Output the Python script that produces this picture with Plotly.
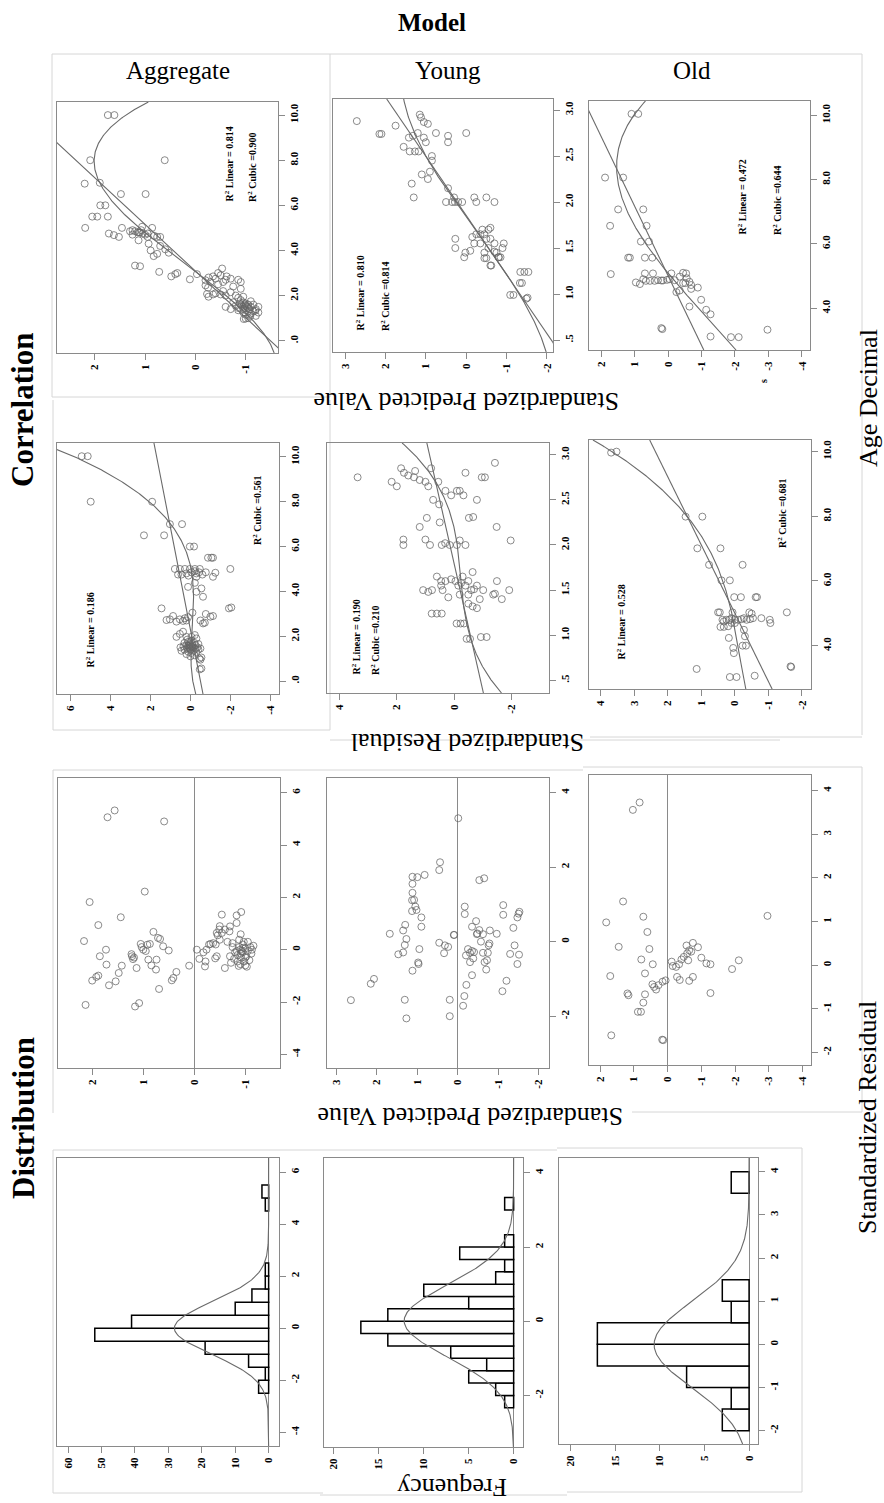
import numpy as np
import plotly.graph_objects as go

W, H = 884, 1503
FONT = "Liberation Serif"

# ======================= DATA =======================
# Row 1: Standardized Predicted Value vs Age Decimal  -> (age, predicted)
AGG_AGE_PRED = [
    (10.0, 1.74), (10.0, 1.61), (8.0, 2.09), (8.0, 0.61), (6.96, 2.2), (7.0, 1.9), (6.5, 1.48), (6.5, 0.99),
    (6.0, 1.89), (6.0, 1.79), (5.5, 2.05), (5.5, 1.95), (5.5, 1.74), (5.0, 2.19), (5.0, 1.46), (4.75, 1.72),
    (4.68, 1.62), (4.6, 1.52), (5.05, 1.06), (5.0, 0.86), (4.9, 1.25), (4.85, 1.2), (4.8, 1.15), (4.8, 1.1),
    (4.75, 1.05), (4.7, 1.0), (4.75, 0.95), (4.85, 1.3), (4.7, 1.25), (4.6, 0.95), (4.6, 0.76), (4.6, 0.7),
    (4.8, 1.12), (4.9, 1.08), (4.65, 0.82), (4.45, 1.13), (4.3, 0.93), (4.0, 0.89), (3.75, 0.83), (3.85, 0.76),
    (4.05, 0.6), (3.9, 0.53), (4.2, 0.7), (3.33, 1.2), (3.3, 1.1), (3.05, 0.72), (2.85, 0.48), (2.95, 0.4),
    (3.0, 0.36), (2.72, 0.11), (2.95, -0.03), (2.68, -0.2), (2.8, -0.26), (3.2, -0.53), (3.0, -0.45), (2.9, -0.5),
    (2.85, -0.35), (2.75, -0.4), (2.7, -0.6), (2.6, -0.55), (2.5, -0.45), (2.45, -0.2), (2.35, -0.25), (2.6, -0.3),
    (2.75, -0.7), (2.7, -0.85), (2.6, -0.9), (2.4, -0.75), (2.85, -0.62), (2.07, -0.23), (1.95, -0.26), (2.1, -0.4),
    (2.05, -0.5), (2.2, -0.55), (2.0, -0.6), (2.15, -0.7), (2.0, -0.8), (2.3, -0.9), (1.95, -0.95), (2.05, -0.35),
    (1.9, -0.85), (1.8, -0.9), (1.7, -0.95), (1.6, -0.9), (1.5, -0.95), (1.65, -1.0), (1.55, -1.0), (1.45, -1.05),
    (1.4, -0.95), (1.6, -1.05), (1.5, -1.1), (1.35, -1.0), (1.3, -1.05), (1.45, -0.85), (1.55, -0.8), (1.7, -0.75),
    (1.5, -0.6), (1.4, -0.7), (1.35, -0.85), (1.25, -0.95), (1.2, -1.1), (1.3, -1.15), (1.4, -1.2), (1.6, -1.15),
    (1.75, -1.1), (1.5, -1.25), (1.55, -0.92), (1.45, -0.98), (1.5, -1.02), (1.6, -0.98), (1.4, -1.08), (1.65, -0.88),
    (0.96, -0.96), (0.98, -1.0), (1.1, -1.09), (1.33, -1.19), (1.0, -1.05), (1.15, -1.0), (1.25, -1.25), (1.1, -1.2),
]
YOUNG_AGE_PRED = [
    (2.88, 2.71), (2.74, 2.15), (2.74, 2.1), (2.83, 1.75), (2.95, 1.15), (2.92, 1.12), (2.87, 1.05), (2.85, 0.95),
    (2.75, 1.2), (2.72, 1.32), (2.7, 1.42), (2.7, 1.05), (2.65, 1.0), (2.6, 1.55), (2.55, 1.4), (2.55, 1.27),
    (2.55, 1.18), (2.75, 0.75), (2.72, 0.45), (2.65, 0.45), (2.75, 0.0), (2.5, 0.85), (2.45, 0.85), (2.3, 1.1),
    (2.33, 0.9), (2.2, 1.35), (2.25, 0.95), (2.05, 1.3), (2.15, 0.45), (2.0, 0.5), (2.0, 0.35), (2.0, 0.28),
    (2.0, 0.2), (2.0, 0.1), (2.05, 0.3), (2.05, -0.2), (2.0, -0.25), (2.05, -0.5), (2.0, -0.7), (1.6, 0.27),
    (1.5, 0.27), (1.45, 0.02), (1.4, 0.05), (1.47, -0.1), (1.55, -0.2), (1.65, -0.25), (1.7, -0.4), (1.65, -0.45),
    (1.55, -0.35), (1.7, -0.55), (1.72, -0.6), (1.6, -0.6), (1.55, -0.7), (1.45, -0.45), (1.45, -0.75), (1.4, -0.8),
    (1.39, -0.45), (1.39, -0.5), (1.31, -0.6), (1.31, -0.62), (1.46, -0.7), (1.4, -0.81), (1.4, -0.85), (1.55, -0.93),
    (1.5, -0.9), (1.6, -0.5), (1.65, -0.35), (1.62, -0.15), (1.5, -0.55), (0.99, -1.09), (0.99, -1.17), (1.12, -1.33),
    (1.12, -1.38), (1.24, -1.34), (1.24, -1.44), (1.24, -1.54), (0.95, -1.49), (0.96, -1.52),
]
OLD_AGE_PRED = [
    (10.04, 1.09), (10.04, 0.89), (8.06, 1.88), (8.06, 1.34), (7.07, 1.49), (7.07, 0.74), (6.56, 1.73), (6.56, 0.64),
    (6.07, 0.81), (6.07, 0.57), (5.57, 1.19), (5.57, 1.14), (5.57, 0.69), (5.57, 0.47), (5.06, 1.71), (5.08, 0.69),
    (5.08, 0.45), (4.8, 0.96), (4.75, 0.84), (4.9, 0.74), (4.85, 0.66), (4.85, 0.54), (4.85, 0.4), (4.87, 0.3),
    (4.86, 0.2), (4.86, 0.15), (4.88, 0.03), (5.08, -0.1), (4.98, -0.35), (5.1, -0.45), (5.08, -0.54), (4.93, -0.56),
    (4.82, -0.64), (4.78, -0.52), (4.78, -0.45), (4.5, -0.25), (4.55, -0.35), (4.72, -0.69), (4.6, -0.69), (4.64, -0.89),
    (4.05, -0.64), (4.26, -0.99), (3.95, -1.14), (3.81, -1.27), (3.38, 0.2), (3.35, 0.17), (3.12, -1.27), (3.1, -1.88),
    (3.1, -2.11), (3.33, -2.97), (4.87, -0.2), (4.9, -0.05),
]

# Row 2: Standardized Residual vs Age Decimal -> (age, residual)
AGG_AGE_RESID = [
    (10.03, 5.45), (10.03, 5.15), (8.0, 5.0), (8.0, 1.92), (7.0, 1.03), (7.0, 0.42), (6.5, 2.33), (6.5, 1.32),
    (6.0, 0.03), (6.0, -0.18), (5.5, -0.88), (5.5, -1.05), (5.5, -1.13), (5.0, -2.0), (5.0, 0.78), (5.0, 0.53),
    (5.0, 0.28), (5.0, 0.03), (5.0, -0.22), (5.0, -0.47), (4.75, 0.62), (4.75, 0.45), (4.8, 0.2), (4.85, -0.05),
    (4.9, -0.22), (4.8, -0.3), (4.85, -0.43), (4.65, -0.3), (4.85, -0.77), (4.83, -1.25), (4.65, -1.13), (4.7, 0.1),
    (4.75, -0.6), (4.2, 0.12), (4.38, -0.22), (3.98, -0.3), (4.13, -0.55), (3.76, -0.63), (3.24, 1.45), (2.72, 1.2),
    (2.75, 1.03), (2.9, 0.87), (2.65, 0.7), (2.75, 0.53), (2.68, 0.37), (2.8, 0.28), (2.7, 0.2), (2.85, 0.12),
    (3.05, -0.1), (2.99, -0.77), (2.87, -1.0), (2.9, -1.13), (2.7, -0.5), (2.57, -0.63), (2.6, -0.72), (3.24, -1.93),
    (3.28, -2.05), (1.97, 0.7), (2.1, 0.53), (2.2, 0.37), (1.97, 0.2), (1.97, -0.05), (2.05, -0.22), (1.9, -0.3),
    (1.53, -0.05), (1.5, 0.05), (1.45, 0.15), (1.6, -0.1), (1.55, 0.1), (1.4, 0.0), (1.65, 0.05), (1.7, -0.2),
    (1.35, -0.15), (1.45, -0.25), (1.6, 0.2), (1.75, 0.1), (1.8, -0.05), (1.3, 0.1), (1.25, -0.05), (1.5, -0.35),
    (1.4, 0.3), (1.55, 0.35), (1.65, -0.4), (1.2, 0.2), (1.15, -0.2), (1.5, 0.5), (1.45, -0.5), (1.35, 0.45),
    (1.7, 0.3), (1.85, 0.15), (1.6, -0.25), (1.4, -0.4), (1.3, -0.3), (1.05, -0.55), (1.0, -0.45), (0.95, -0.5),
    (1.1, 0.0), (1.5, -0.15), (1.55, -0.05), (1.45, 0.05), (1.62, 0.0), (1.48, -0.1), (1.58, 0.12), (0.52, -0.47),
    (0.56, -0.55),
]
YOUNG_AGE_RESID = [
    (2.75, 3.37), (2.7, 2.18), (2.65, 2.0), (2.85, 1.85), (2.8, 1.75), (2.77, 1.6), (2.75, 1.4), (2.82, 1.36),
    (2.72, 1.2), (2.7, 1.0), (2.65, 0.9), (2.5, 0.73), (2.45, 0.52), (2.06, 1.77), (2.0, 1.77), (2.06, 1.0),
    (2.0, 0.84), (2.0, 0.43), (2.02, 0.31), (1.5, 1.08), (1.48, 0.9), (1.5, 0.77), (1.6, 0.45), (1.55, 0.45),
    (1.5, 0.4), (1.24, 0.78), (1.24, 0.6), (1.24, 0.43), (1.13, -0.09), (2.91, -1.43), (2.75, -0.97), (2.75, -1.08),
    (2.6, -0.1), (2.6, -0.2), (2.55, -0.33), (2.31, -0.67), (2.3, -0.52), (2.2, -1.49), (2.05, -1.98), (2.0, -0.4),
    (2.0, -0.1), (2.05, -0.2), (1.6, -0.05), (1.55, -0.15), (1.58, -0.25), (1.55, -0.4), (1.6, -0.5), (1.5, -0.6),
    (1.51, -0.7), (1.5, -1.02), (1.45, -1.37), (1.46, -1.43), (1.6, -1.5), (1.5, -1.93), (1.4, -1.67), (1.35, -0.5),
    (1.32, -0.65), (1.3, -0.8), (1.13, -0.23), (1.13, -0.35), (0.96, -0.44), (0.96, -0.56), (0.98, -0.94), (0.98, -1.14),
    (1.65, -0.3), (1.62, 0.1), (1.45, -0.2), (1.42, 0.2), (1.4, -0.9), (1.55, -0.8), (1.65, 0.6), (1.7, -0.65),
    (1.45, -0.5), (1.6, 0.3), (2.0, 0.15), (2.55, 0.1), (2.6, 0.3), (2.5, -0.8), (2.7, 0.55), (2.8, -0.4),
    (2.85, 0.8), (2.3, 0.95), (2.2, 1.2), (2.25, 0.5),
]
OLD_AGE_RESID = [
    (9.97, 3.69), (10.0, 3.53), (7.99, 1.47), (7.99, 0.97), (7.01, 1.12), (7.01, 0.43), (6.5, 0.77), (6.5, -0.23),
    (6.02, 0.4), (6.02, 0.15), (5.5, 0.02), (5.5, -0.18), (5.5, -0.62), (5.5, -0.66), (5.03, 0.5), (5.03, 0.45),
    (5.03, 0.07), (5.03, -0.43), (4.99, -0.5), (5.03, -1.55), (4.8, 0.37), (4.75, 0.33), (4.8, 0.25), (4.8, 0.17),
    (4.85, 0.1), (4.8, 0.0), (4.8, -0.1), (4.82, -0.2), (4.85, -0.27), (4.8, -0.35), (4.82, -0.45), (4.85, -0.54),
    (4.85, -0.79), (4.8, -1.04), (4.7, -1.06), (4.58, 0.43), (4.58, 0.33), (4.6, 0.2), (4.7, 0.1), (4.7, 0.0),
    (4.49, -0.27), (4.29, -0.3), (4.24, 0.18), (3.93, 0.05), (3.77, 0.03), (4.0, -0.23), (4.0, -0.33), (3.28, 1.14),
    (3.03, 0.15), (3.03, -0.05), (3.07, -0.59), (3.36, -1.66), (3.34, -1.68),
]

# Row 3: Standardized Residual vs Standardized Predicted Value -> (predicted, residual)
AGG_PRED_RESID = [
    (1.70, 5.06), (1.56, 5.32), (0.59, 4.90), (0.97, 2.22), (2.05, 1.82), (1.44, 1.24), (1.88, 0.94), (2.16, 0.33),
    (0.80, 0.68), (0.71, 0.45), (0.67, 0.41), (1.73, 0.0), (1.85, -0.25), (1.05, 0.22), (1.0, 0.0), (0.92, 0.19),
    (0.87, 0.22), (0.61, 0.13), (0.50, -0.03), (1.23, -0.17), (1.2, -0.36), (1.18, -0.3), (1.22, -0.25), (0.9, -0.38),
    (0.74, -0.38), (1.72, -0.57), (1.42, -0.61), (1.48, -0.89), (1.13, -0.7), (0.84, -0.6), (0.75, -0.76), (1.88, -0.99),
    (1.92, -1.04), (2.0, -1.18), (1.54, -1.21), (1.67, -1.36), (0.44, -1.17), (0.41, -1.08), (0.35, -0.85), (0.69, -1.5),
    (0.1, -0.61), (2.13, -2.11), (1.16, -2.17), (1.08, -2.04), (1.03, 0.1), (0.95, -0.05),
    (-0.05, 0.0), (-0.1, -0.35), (-0.18, -0.1), (-0.22, -0.45), (-0.24, 0.0), (-0.29, 0.2), (-0.32, 0.22), (-0.37, 0.25),
    (-0.42, 0.2), (-0.54, 1.34), (-0.83, 1.31), (-0.92, 1.44), (-0.83, 1.02), (-0.5, 0.9), (-0.49, 0.77), (-0.54, 0.64),
    (-0.6, 0.77), (-0.69, 0.7), (-0.7, 0.89), (-0.91, 0.59), (-0.44, 0.64), (-0.46, 0.55), (-0.5, 0.38), (-0.6, -0.7),
    (-0.21, -0.64), (-0.41, -0.33), (-0.44, -0.25), (-0.65, 0.3), (-0.75, 0.1), (-0.9, 0.0), (-0.95, -0.1), (-1.0, 0.05),
    (-0.85, -0.2), (-0.92, -0.3), (-1.02, -0.25), (-0.88, 0.1), (-0.8, -0.1), (-1.05, -0.05), (-1.1, 0.1), (-0.95, 0.2),
    (-0.78, -0.35), (-0.98, -0.45), (-1.08, -0.4), (-0.9, -0.55), (-1.0, -0.6), (-0.72, -0.5), (-0.85, -0.45), (-1.12, -0.15),
    (-1.16, 0.15), (-0.75, 0.25), (-0.7, -0.25), (-0.97, 0.3), (-1.05, 0.3), (-0.88, 0.38), (-0.93, -0.05), (-0.96, 0.07),
    (-0.91, -0.15), (-1.0, -0.3), (-0.83, -0.05), (-1.13, 0.0), (-0.87, -0.62), (-1.03, -0.65),
]
YOUNG_PRED_RESID = [
    (2.64, -1.57), (2.15, -1.13), (2.07, -1.0), (1.68, 0.21), (1.47, -0.34), (1.35, -0.29), (1.35, 0.30), (1.30, 0.45),
    (1.31, -0.09), (1.27, 0.07), (1.12, -0.78), (1.13, 0.82), (1.13, 1.11), (1.12, 1.31), (1.12, 1.55), (1.12, 1.74),
    (1.08, 1.12), (1.05, 0.94), (1.02, 0.85), (1.0, 1.73), (0.98, -0.56), (0.97, -0.6), (0.95, -0.2), (0.9, 0.65),
    (0.9, 0.4), (0.82, 1.79), (1.31, -1.56), (1.27, -2.06), (0.46, 1.92), (0.44, 2.13), (0.46, -0.03), (0.32, -0.1),
    (0.34, -0.31), (0.24, -0.14), (0.09, 0.18), (0.2, -1.56), (0.2, -2.0), (-0.01, 3.31), (-0.53, 1.65), (-0.65, 1.70),
    (-0.17, 0.94), (-0.17, 0.74), (0.1, 0.18), (-0.2, -0.37), (-0.25, -0.2), (-0.3, -0.3), (-0.35, -0.25), (-0.4, -0.28),
    (-0.38, -0.45), (-0.3, -0.55), (-0.21, -1.16), (-0.16, -1.46), (-0.13, -1.72), (-0.35, 0.4), (-0.45, 0.55), (-0.47, 0.2),
    (-0.48, 0.22), (-0.53, 0.31), (-0.57, 0.0), (-0.62, 0.2), (-0.79, 0.3), (-0.96, 0.21), (-0.62, -0.3), (-0.66, -0.55),
    (-0.7, -0.75), (-0.72, -0.5), (-0.74, -0.3), (-0.76, -0.1), (-0.78, -0.05), (-0.35, -0.9), (-1.12, 0.98), (-1.12, 0.72),
    (-1.37, 0.37), (-1.47, 0.65), (-1.5, 0.75), (-1.52, 0.8), (-1.29, -0.33), (-1.4, -0.1), (-1.47, -0.6), (-1.51, -0.35),
    (-1.2, -1.05), (-1.1, -1.33),
]
OLD_PRED_RESID = [
    (1.03, 3.56), (0.83, 3.73), (1.32, 1.46), (1.82, 0.98), (0.72, 1.11), (0.6, 0.76), (1.45, 0.42), (0.54, 0.37),
    (0.78, 0.13), (0.44, 0.02), (0.67, -0.19), (1.7, -0.25), (0.45, -0.44), (0.4, -0.5), (0.34, -0.56), (0.27, -0.46),
    (0.15, -0.38), (0.06, -0.35), (1.16, -0.69), (1.19, -0.65), (0.67, -0.67), (0.72, -0.86), (0.88, -1.07), (0.79, -1.07),
    (1.67, -1.61), (0.16, -1.71), (0.13, -1.72), (-0.12, 0.08), (-0.15, -0.02), (-0.25, -0.04), (-0.34, 0.02), (-0.28, -0.27),
    (-0.36, -0.34), (-0.41, 0.13), (-0.48, 0.19), (-0.56, 0.45), (-0.58, 0.27), (-0.64, 0.34), (-0.7, 0.31), (-0.75, 0.51),
    (-0.61, 0.11), (-0.64, -0.36), (-0.75, -0.27), (-0.9, 0.41), (-1.0, 0.17), (-1.15, 0.04), (-1.27, 0.02), (-1.27, -0.64),
    (-1.91, -0.09), (-2.11, 0.11), (-2.96, 1.13),
]

# Row 4: histograms of the standardized residual (lower bin edge, count)
AGG_HIST_LEFT = [-2.5, -2.0, -1.5, -1.0, -0.5, 0.0, 0.5, 1.0, 1.5, 2.0, 4.5, 5.0]
AGG_HIST_COUNT = [3, 1, 6, 19, 52, 41, 10, 5, 1, 1, 1, 2]
AGG_HIST_BINW = 0.5
YOUNG_HIST_LEFT = [-7/3, -2.0, -5/3, -4/3, -1.0, -2/3, -1/3, 0.0, 1/3, 2/3, 1.0, 4/3, 5/3, 2.0, 3.0]
YOUNG_HIST_COUNT = [1, 2, 5, 3, 7, 14, 17, 14, 5, 10, 2, 1, 6, 1, 1]
YOUNG_HIST_BINW = 1/3
OLD_HIST_LEFT = [-2.0, -1.5, -1.0, -0.5, 0.0, 0.5, 1.0, 3.5]
OLD_HIST_COUNT = [3, 2, 7, 17, 17, 2, 3, 2]
OLD_HIST_BINW = 0.5

# Fit lines: points the fitted curves pass through, read as (age, value)
AGG_PRED_LIN = [(8.67, 2.70), (-0.37, -1.67)]
AGG_PRED_CUB = [(10.55, 0.96), (9.0, 1.82), (7.56, 2.09), (6.0, 1.56), (4.0, 0.46), (2.0, -0.53), (0.0, -1.42), (-0.5, -1.6)]
YOUNG_PRED_LIN = [(3.12, 1.97), (0.46, -2.17)]
YOUNG_PRED_CUB = [(3.11, 1.5), (2.9, 1.45), (2.67, 1.25), (2.3, 0.72), (2.0, 0.22), (1.5, -0.55), (1.0, -1.28), (0.6, -1.78), (0.37, -2.0)]
OLD_PRED_LIN = [(10.1, 2.35), (2.76, -1.04)]
OLD_PRED_CUB = [(2.76, -2.01), (4.0, -0.84), (4.77, -0.25), (5.6, 0.35), (6.53, 0.94), (7.67, 1.44), (8.44, 1.58), (9.42, 1.34), (10.46, 0.64)]
AGG_RESID_LIN = [(10.62, 1.83), (-0.58, -0.63)]
AGG_RESID_CUB = [(10.33, 6.62), (9.0, 3.8), (8.02, 1.92), (7.0, 1.0), (6.0, 0.3), (5.0, 0.0), (4.0, -0.12), (3.0, -0.12), (2.0, -0.08), (1.0, -0.05), (0.0, -0.12), (-0.58, -0.25)]
YOUNG_RESID_LIN = [(3.13, 0.95), (0.37, -1.02)]
YOUNG_RESID_CUB = [(3.13, 1.83), (2.8, 0.85), (2.5, 0.25), (2.0, -0.05), (1.5, -0.27), (1.0, -0.55), (0.7, -0.95), (0.37, -1.61)]
OLD_RESID_LIN = [(10.38, 2.55), (2.64, -1.12)]
OLD_RESID_CUB = [(10.36, 4.31), (9.5, 2.9), (8.35, 1.53), (7.0, 0.94), (6.04, 0.54), (4.8, -0.05), (3.88, -0.25), (2.64, -0.25)]

# R-squared labels
R2_AGG_PRED = ("0.814", "0.900")
R2_YOUNG_PRED = ("0.810", "0.814")
R2_OLD_PRED = ("0.472", "0.644")
R2_AGG_RESID = ("0.186", "0.561")
R2_YOUNG_RESID = ("0.190", "0.210")
R2_OLD_RESID = ("0.528", "0.681")

# Tick values / labels
AGE_TICKS_AGG = [0, 2, 4, 6, 8, 10]
AGE_TEXT_AGG = [".0", "2.0", "4.0", "6.0", "8.0", "10.0"]
AGE_TICKS_YOUNG = [0.5, 1.0, 1.5, 2.0, 2.5, 3.0]
AGE_TEXT_YOUNG = [".5", "1.0", "1.5", "2.0", "2.5", "3.0"]
AGE_TICKS_OLD = [4, 6, 8, 10]
AGE_TEXT_OLD = ["4.0", "6.0", "8.0", "10.0"]
PRED_TICKS_AGG = [2, 1, 0, -1]
PRED_TICKS_YOUNG = [3, 2, 1, 0, -1, -2]
PRED_TICKS_OLD = [2, 1, 0, -1, -2, -3, -4]
RESID_TICKS_AGG = [6, 4, 2, 0, -2, -4]
RESID_TICKS_YOUNG = [4, 2, 0, -2]
RESID_TICKS_OLD = [4, 3, 2, 1, 0, -1, -2]
FREQ_TICKS_AGG = [60, 50, 40, 30, 20, 10, 0]
FREQ_TICKS_SUB = [20, 15, 10, 5, 0]

COL_TITLES = ["Aggregate", "Young", "Old"]

# ======================= LAYOUT SPECS =======================
AX_COL = "#8a8a8a"
PT_COL = "rgba(100,100,100,0.75)"
LN_COL = "#6a6a6a"

def lab(v):
    return [str(x) for x in v]

# box = (x0, x1, y0, y1) in pixels; xr / yr = axis ranges
panels = [
    dict(box=(57, 278, 102, 353), xr=[2.75, -1.64], yr=[-0.545, 10.58], xt=PRED_TICKS_AGG, xl=lab(PRED_TICKS_AGG), yt=AGE_TICKS_AGG, yl=AGE_TEXT_AGG),
    dict(box=(333, 553, 99, 352), xr=[3.3, -2.15], yr=[0.37, 3.12], xt=PRED_TICKS_YOUNG, xl=lab(PRED_TICKS_YOUNG), yt=AGE_TICKS_YOUNG, yl=AGE_TEXT_YOUNG),
    dict(box=(589, 810, 101, 350), xr=[2.36, -4.24], yr=[2.7, 10.44], xt=PRED_TICKS_OLD, xl=lab(PRED_TICKS_OLD), yt=AGE_TICKS_OLD, yl=AGE_TEXT_OLD),
    dict(box=(57, 279, 443, 694), xr=[6.69, -4.44], yr=[-0.58, 10.62], xt=RESID_TICKS_AGG, xl=lab(RESID_TICKS_AGG), yt=AGE_TICKS_AGG, yl=AGE_TEXT_AGG),
    dict(box=(327, 549, 443, 693), xr=[4.44, -3.32], yr=[0.36, 3.13], xt=RESID_TICKS_YOUNG, xl=lab(RESID_TICKS_YOUNG), yt=AGE_TICKS_YOUNG, yl=AGE_TEXT_YOUNG),
    dict(box=(589, 811, 440, 689), xr=[4.35, -2.27], yr=[2.66, 10.36], xt=RESID_TICKS_OLD, xl=lab(RESID_TICKS_OLD), yt=AGE_TICKS_OLD, yl=AGE_TEXT_OLD),
    dict(box=(58, 280, 778, 1068), xr=[2.67, -1.68], yr=[-4.52, 6.56], xt=PRED_TICKS_AGG, xl=lab(PRED_TICKS_AGG), yt=RESID_TICKS_AGG, yl=lab(RESID_TICKS_AGG), zero=True),
    dict(box=(327, 549, 778, 1068), xr=[3.23, -2.25], yr=[-3.39, 4.39], xt=PRED_TICKS_YOUNG, xl=lab(PRED_TICKS_YOUNG), yt=RESID_TICKS_YOUNG, yl=lab(RESID_TICKS_YOUNG), zero=True),
    dict(box=(589, 811, 775, 1065), xr=[2.33, -4.25], yr=[-2.29, 4.36], xt=PRED_TICKS_OLD, xl=lab(PRED_TICKS_OLD), yt=RESID_TICKS_OLD, yl=lab(RESID_TICKS_OLD), zero=True),
    dict(box=(57, 279, 1158, 1446), xr=[63.3, -3.1], yr=[-4.53, 6.54], xt=FREQ_TICKS_AGG, xl=lab(FREQ_TICKS_AGG), yt=RESID_TICKS_AGG, yl=lab(RESID_TICKS_AGG), zero=True),
    dict(box=(324, 523, 1158, 1447), xr=[21.1, -1.04], yr=[-3.39, 4.40], xt=FREQ_TICKS_SUB, xl=lab(FREQ_TICKS_SUB), yt=RESID_TICKS_YOUNG, yl=lab(RESID_TICKS_YOUNG), zero=True),
    dict(box=(559, 758, 1158, 1444), xr=[21.3, -1.0], yr=[-2.31, 4.32], xt=FREQ_TICKS_SUB, xl=lab(FREQ_TICKS_SUB), yt=RESID_TICKS_OLD, yl=lab(RESID_TICKS_OLD), zero=True),
]

fig = go.Figure()
layout = dict(
    width=W, height=H, margin=dict(l=0, r=0, t=0, b=0),
    paper_bgcolor="white", plot_bgcolor="white", showlegend=False,
    font=dict(family=FONT, color="black"),
)
tickfont = dict(family=FONT, size=11, color="black", weight="bold")

def refs(i):
    return ("x" if i == 1 else f"x{i}"), ("y" if i == 1 else f"y{i}")

for i, p in enumerate(panels, start=1):
    x0, x1, y0, y1 = p["box"]
    xn = "xaxis" if i == 1 else f"xaxis{i}"
    yn = "yaxis" if i == 1 else f"yaxis{i}"
    xr_, yr_ = refs(i)
    common = dict(showline=True, mirror=True, linecolor=AX_COL, linewidth=1.2, ticks="outside",
                  ticklen=6, tickwidth=1.2, tickcolor=AX_COL, showgrid=False, tickangle=-90,
                  tickfont=tickfont, fixedrange=True)
    layout[xn] = dict(common, domain=[x0 / W, x1 / W], range=p["xr"], anchor=yr_, side="bottom",
                      tickmode="array", tickvals=p["xt"], ticktext=p["xl"],
                      zeroline=bool(p.get("zero")), zerolinecolor=AX_COL, zerolinewidth=1.2)
    layout[yn] = dict(common, domain=[1 - y1 / H, 1 - y0 / H], range=p["yr"], anchor=xr_, side="right",
                      tickmode="array", tickvals=p["yt"], ticktext=p["yl"], zeroline=False)

def add_points(i, pairs, swap):
    xr_, yr_ = refs(i)
    a = np.array(pairs)
    # swap=True: pairs are (age, value) -> value horizontal, age vertical
    xs, ys = (a[:, 1], a[:, 0]) if swap else (a[:, 0], a[:, 1])
    fig.add_trace(go.Scatter(x=xs, y=ys, mode="markers", xaxis=xr_, yaxis=yr_, hoverinfo="skip",
                             marker=dict(symbol="circle-open", size=7, color=PT_COL, line=dict(width=1))))

def add_fit(i, anchors, deg):
    xr_, yr_ = refs(i)
    a = np.array(anchors)
    coef = np.polyfit(a[:, 0], a[:, 1], deg)
    lo, hi = panels[i - 1]["yr"]
    ages = np.linspace(lo, hi, 300)
    fig.add_trace(go.Scatter(x=np.polyval(coef, ages), y=ages, mode="lines", xaxis=xr_, yaxis=yr_,
                             hoverinfo="skip", line=dict(color=LN_COL, width=1.1)))

def add_hist(i, left, counts, bw):
    xr_, yr_ = refs(i)
    left = np.array(left, dtype=float)
    counts = np.array(counts, dtype=float)
    centers = left + bw / 2
    fig.add_trace(go.Bar(x=counts, y=centers, width=bw, orientation="h", base=0, xaxis=xr_, yaxis=yr_,
                         hoverinfo="skip", marker=dict(color="white", line=dict(color="black", width=1.5))))
    n = counts.sum()
    mu = (counts * centers).sum() / n
    sd = np.sqrt((counts * (centers - mu) ** 2).sum() / n)
    lo, hi = panels[i - 1]["yr"]
    r = np.linspace(lo, hi, 300)
    f = n * bw * np.exp(-0.5 * ((r - mu) / sd) ** 2) / (sd * np.sqrt(2 * np.pi))
    fig.add_trace(go.Scatter(x=f, y=r, mode="lines", xaxis=xr_, yaxis=yr_, hoverinfo="skip",
                             line=dict(color=LN_COL, width=1.1)))

for i, pts, lin, cub in [(1, AGG_AGE_PRED, AGG_PRED_LIN, AGG_PRED_CUB),
                         (2, YOUNG_AGE_PRED, YOUNG_PRED_LIN, YOUNG_PRED_CUB),
                         (3, OLD_AGE_PRED, OLD_PRED_LIN, OLD_PRED_CUB),
                         (4, AGG_AGE_RESID, AGG_RESID_LIN, AGG_RESID_CUB),
                         (5, YOUNG_AGE_RESID, YOUNG_RESID_LIN, YOUNG_RESID_CUB),
                         (6, OLD_AGE_RESID, OLD_RESID_LIN, OLD_RESID_CUB)]:
    add_points(i, pts, swap=True)
    add_fit(i, lin, 1)
    add_fit(i, cub, 3)

add_points(7, AGG_PRED_RESID, swap=False)
add_points(8, YOUNG_PRED_RESID, swap=False)
add_points(9, OLD_PRED_RESID, swap=False)

add_hist(10, AGG_HIST_LEFT, AGG_HIST_COUNT, AGG_HIST_BINW)
add_hist(11, YOUNG_HIST_LEFT, YOUNG_HIST_COUNT, YOUNG_HIST_BINW)
add_hist(12, OLD_HIST_LEFT, OLD_HIST_COUNT, OLD_HIST_BINW)

# ======================= TEXT =======================
ann = []
def txt(s, px, py, size, bold=False, angle=0, xa="center", ya="middle"):
    ann.append(dict(text=s, x=px / W, y=1 - py / H, xref="paper", yref="paper", showarrow=False,
                    textangle=angle, xanchor=xa, yanchor=ya,
                    font=dict(family=FONT, size=size, color="black", weight="bold" if bold else "normal")))

txt("Model", 432, 22, 25, bold=True)
for s, px in zip(COL_TITLES, [178, 448, 692]):
    txt(s, px, 70, 25)
txt("Correlation", 22, 410, 31, bold=True, angle=-90)
txt("Distribution", 23, 1118, 31, bold=True, angle=-90)
txt("Age Decimal", 868, 398, 26, angle=-90)
txt("Standardized Residual", 867, 1118, 26, angle=-90)
txt("Standardized Predicted Value", 466, 401, 26, angle=180)
txt("Standardized Residual", 468, 742, 26, angle=180)
txt("Standardized Predicted Value", 470, 1117, 26, angle=180)
txt("Frequency", 452, 1488, 26, angle=180)
txt("s", 763, 381, 10, bold=True, angle=-90)

def r2(lin_pos, cub_pos, vals):
    if lin_pos:
        txt(f"R<sup>2</sup> Linear = {vals[0]}", lin_pos[0], lin_pos[1], 10, bold=True, angle=-90, ya="bottom")
    if cub_pos:
        txt(f"R<sup>2</sup> Cubic ={vals[1]}", cub_pos[0], cub_pos[1], 10, bold=True, angle=-90, ya="bottom")

r2((228, 204), (252, 204), R2_AGG_PRED)
r2((360, 333), (385, 333), R2_YOUNG_PRED)
r2((742, 237), (777, 237), R2_OLD_PRED)
r2((89, 670), (257, 547), R2_AGG_RESID)
r2((355, 677), (375, 677), R2_YOUNG_RESID)
r2((620, 662), (782, 550), R2_OLD_RESID)

# faint outer frames of the pasted panels
FRAME = "#d6d6d6"
segs = [
    (52, 54, 330, 54), (52, 54, 52, 397), (330, 54, 330, 397), (52, 397, 330, 397),
    (53, 400, 53, 730), (53, 730, 330, 730), (330, 400, 330, 730),
    (330, 54, 862, 54), (862, 54, 862, 735), (590, 737, 862, 737), (330, 740, 780, 740),
    (53, 770, 583, 770), (583, 767, 862, 767), (53, 770, 53, 1113), (862, 767, 862, 1112), (632, 1112, 862, 1112),
    (53, 1150, 557, 1150), (53, 1150, 53, 1493), (53, 1493, 323, 1493), (320, 1495, 567, 1495),
    (557, 1148, 802, 1148), (802, 1148, 802, 1492), (567, 1492, 802, 1492),
]
shapes = [dict(type="line", xref="paper", yref="paper", x0=a / W, y0=1 - b / H, x1=c / W, y1=1 - d / H,
               line=dict(color=FRAME, width=1), layer="below") for a, b, c, d in segs]

layout["annotations"] = ann
layout["shapes"] = shapes
fig.update_layout(**layout)
fig.write_html("out.html", config={"displayModeBar": False},
               post_script="document.body.style.margin='0';document.body.style.padding='0';"
                           "document.body.style.overflow='hidden';")
